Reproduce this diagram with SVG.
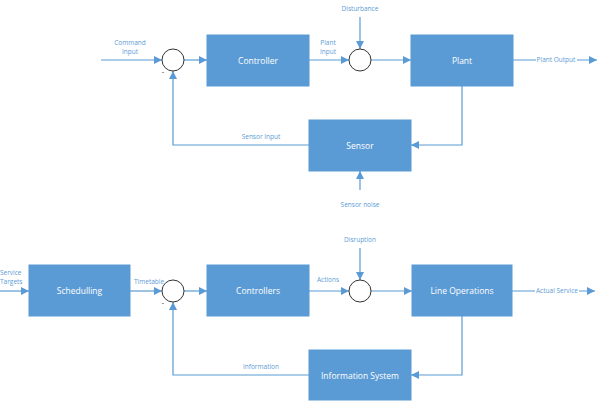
<svg xmlns="http://www.w3.org/2000/svg" width="601" height="410" viewBox="0 0 601 410">
<defs>
<marker id="ah" viewBox="0 0 10 10" refX="10" refY="5" markerWidth="8" markerHeight="8" markerUnits="userSpaceOnUse" orient="auto">
<path d="M0,0 L10,5 L0,10 z" fill="#5B9BD5"/>
</marker>
<style>
.box{fill:#5B9BD5;stroke:#5B9BD5;stroke-width:1}
.bt{font-family:"Open Sans","Liberation Sans",sans-serif;font-size:8.5px;fill:#ffffff;text-anchor:middle;dominant-baseline:central}
.lt{font-family:"Open Sans","Liberation Sans",sans-serif;font-size:6.5px;fill:#5B9BD5;text-anchor:middle}
.sum{fill:#ffffff;stroke:#333333;stroke-width:1}
.ln{fill:none;stroke:#5B9BD5;stroke-width:1.2}
.ar{marker-end:url(#ah)}
.mn{font-family:"Liberation Sans",sans-serif;font-size:7px;fill:#333333;text-anchor:middle}
</style>
</defs>
<rect width="601" height="410" fill="#ffffff"/>
<g id="connectors">
<!-- top loop -->
<path class="ln ar" d="M101,60 H162"/>
<path class="ln ar" d="M184,60 H207"/>
<path class="ln ar" d="M309,60 H349"/>
<path class="ln ar" d="M360,17 V49"/>
<path class="ln ar" d="M371,60 H411"/>
<path class="ln ar" d="M513,60 H597"/>
<path class="ln ar" d="M462,86 V145 H411"/>
<path class="ln ar" d="M309,145 H173 V71"/>
<path class="ln ar" d="M360,190 V171"/>
<!-- bottom loop -->
<path class="ln ar" d="M0,291 H29"/>
<path class="ln ar" d="M130,291 H162"/>
<path class="ln ar" d="M184,291 H207"/>
<path class="ln ar" d="M309,291 H349"/>
<path class="ln ar" d="M360,248 V280"/>
<path class="ln ar" d="M371,291 H412"/>
<path class="ln ar" d="M512,291 H595"/>
<path class="ln ar" d="M462,316 V375 H411"/>
<path class="ln ar" d="M309,375 H173 V302"/>
</g>
<g id="labels">
<text class="lt" x="130" y="45">Command</text>
<text class="lt" x="130" y="54">Input</text>
<text class="lt" x="328" y="45">Plant</text>
<text class="lt" x="328" y="54">Input</text>
<text class="lt" x="360" y="11">Disturbance</text>
<rect x="536" y="55" width="41" height="9" fill="#ffffff"/>
<text class="lt" x="556" y="62">Plant Output</text>
<text class="lt" x="261" y="139">Sensor Input</text>
<text class="lt" x="360" y="207">Sensor noise</text>
<text class="lt" x="0" y="275" style="text-anchor:start">Service</text>
<text class="lt" x="0" y="284" style="text-anchor:start">Targets</text>
<text class="lt" x="134" y="284" style="text-anchor:start">Timetable</text>
<text class="lt" x="328" y="282">Actions</text>
<text class="lt" x="360" y="242">Disruption</text>
<rect x="535" y="286" width="44" height="9" fill="#ffffff"/>
<text class="lt" x="557" y="293">Actual Service</text>
<text class="lt" x="261" y="369">Information</text>
</g>
<g id="sum1"><circle class="sum" cx="173" cy="60" r="11"/><text class="mn" x="163" y="74">-</text></g>
<g id="sum2"><circle class="sum" cx="360" cy="60" r="11"/></g>
<g id="sum3"><circle class="sum" cx="173" cy="291" r="11"/><text class="mn" x="163" y="305">-</text></g>
<g id="sum4"><circle class="sum" cx="360" cy="291" r="11"/></g>
<g id="controller"><rect class="box" x="207" y="35" width="102" height="51"/><text class="bt" x="258" y="60.5">Controller</text></g>
<g id="plant"><rect class="box" x="411" y="35" width="102" height="51"/><text class="bt" x="462" y="60.5">Plant</text></g>
<g id="sensor"><rect class="box" x="309" y="120" width="102" height="51"/><text class="bt" x="360" y="145.5">Sensor</text></g>
<g id="scheduling"><rect class="box" x="29" y="265" width="101" height="51"/><text class="bt" x="79.5" y="290.5">Schedulling</text></g>
<g id="controllers"><rect class="box" x="207" y="265" width="102" height="51"/><text class="bt" x="258" y="290.5">Controllers</text></g>
<g id="lineops"><rect class="box" x="412" y="265" width="100" height="51"/><text class="bt" x="462" y="290.5">Line Operations</text></g>
<g id="infosys"><rect class="box" x="309" y="350" width="102" height="50"/><text class="bt" x="360" y="375.5">Information System</text></g>
</svg>
